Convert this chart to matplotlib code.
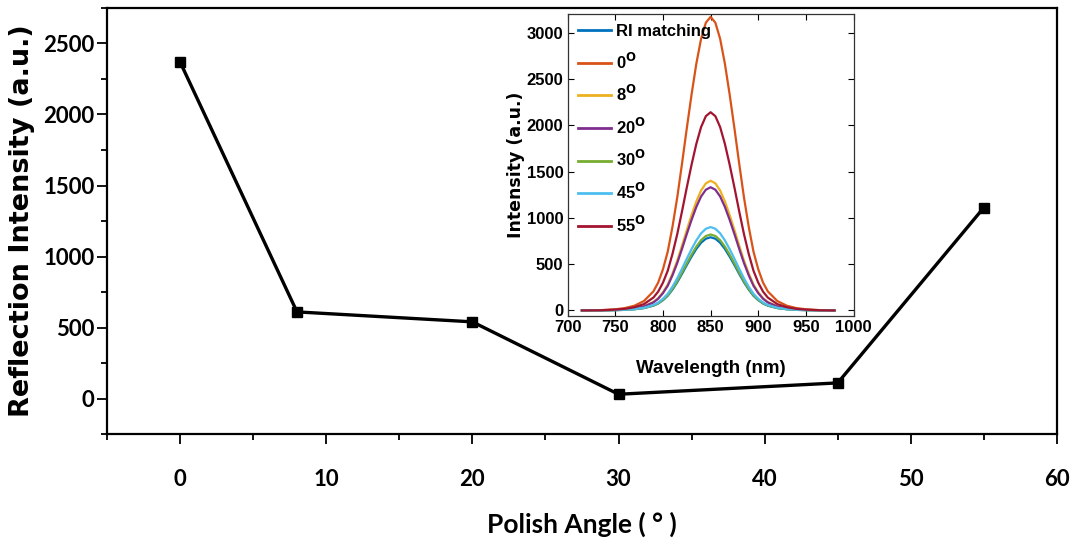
import matplotlib
matplotlib.use("Agg")
import matplotlib.pyplot as plt
from matplotlib.ticker import MultipleLocator

# Main series: reflection intensity vs. polish angle
polish_angle = [0, 8, 20, 30, 45, 55]
reflection = [2370, 610, 540, 30, 110, 1345]

# Inset: reflection spectra (common normalised line shape scaled by each peak)
wavelength = [715, 735, 750, 760, 770, 780, 790, 795, 800, 805, 810, 815, 820, 825,
              830, 835, 840, 845, 850, 855, 860, 865, 870, 875, 880, 885, 890, 895,
              900, 905, 910, 920, 930, 940, 950, 965, 980]
shape = [0.0, 0.001, 0.004, 0.008, 0.016, 0.032, 0.065, 0.095, 0.14, 0.20, 0.285, 0.385,
         0.50, 0.62, 0.735, 0.84, 0.925, 0.98, 1.0, 0.98, 0.925, 0.84, 0.735, 0.62,
         0.50, 0.385, 0.285, 0.20, 0.14, 0.095, 0.065, 0.032, 0.016, 0.008, 0.004, 0.001, 0.0]
spectra_labels = ["RI matching", "0$^{\\mathbf{O}}$", "8$^{\\mathbf{O}}$", "20$^{\\mathbf{O}}$",
                  "30$^{\\mathbf{O}}$", "45$^{\\mathbf{O}}$", "55$^{\\mathbf{O}}$"]
spectra_peaks = [790, 3170, 1400, 1330, 820, 900, 2140]
spectra_colors = ["#0072BD", "#D95319", "#EDB120", "#7E2F8E", "#77AC30", "#4DBEEE", "#A2142F"]

calib = ["Lato", "DejaVu Sans"]
arial = ["Liberation Sans", "DejaVu Sans"]
wide = ["DejaVu Sans"]

fig = plt.figure(figsize=(10.71, 5.51), dpi=100)
ax = fig.add_axes([0.0999, 0.2123, 0.887, 0.7732])

ax.plot(polish_angle, reflection, color="black", lw=2.4, marker="s", ms=7,
        markerfacecolor="black", markeredgecolor="black")
ax.set_xlim(-5, 60)
ax.set_ylim(-250, 2750)
ax.xaxis.set_major_locator(MultipleLocator(10))
ax.xaxis.set_minor_locator(MultipleLocator(5))
ax.yaxis.set_major_locator(MultipleLocator(500))
ax.yaxis.set_minor_locator(MultipleLocator(250))
ax.tick_params(which="both", direction="out", top=False, right=False, width=1.3)
ax.tick_params(which="major", length=7)
ax.tick_params(which="minor", length=4)
ax.tick_params(axis="x", pad=18)
ax.tick_params(axis="y", pad=2)
for sp in ax.spines.values():
    sp.set_linewidth(1.6)
for lab in ax.get_xticklabels() + ax.get_yticklabels():
    lab.set_fontfamily(calib)
    lab.set_fontweight("bold")
    lab.set_fontsize(16)
ax.set_xlabel("Polish Angle ( ° )", fontsize=19, fontfamily=calib, fontweight="bold", labelpad=16)
ax.set_ylabel("Reflection Intensity (a.u.)", fontsize=19.5, fontfamily=wide, fontweight="bold", labelpad=6)

# Inset spectra
ins = fig.add_axes([0.530, 0.4265, 0.267, 0.548])
for lab, peak, col in zip(spectra_labels, spectra_peaks, spectra_colors):
    ins.plot(wavelength, [peak * s for s in shape], color=col, lw=1.6, label=lab)
ins.set_xlim(700, 1000)
ins.set_ylim(-60, 3200)
ins.xaxis.set_major_locator(MultipleLocator(50))
ins.yaxis.set_major_locator(MultipleLocator(500))
ins.tick_params(direction="in", top=True, right=True, length=4, width=0.8, pad=3)
for sp in ins.spines.values():
    sp.set_linewidth(0.9)
    sp.set_color("#333333")
for lab in ins.get_xticklabels() + ins.get_yticklabels():
    lab.set_fontfamily(arial)
    lab.set_fontweight("bold")
    lab.set_fontsize(12)
ins.set_xlabel("Wavelength (nm)", fontsize=13.5, fontfamily=arial, fontweight="bold", labelpad=18)
ins.set_ylabel("Intensity (a.u.)", fontsize=12.5, fontfamily=wide, fontweight="bold", labelpad=1)
leg = ins.legend(loc="upper left", frameon=False, handlelength=2.0, handletextpad=0.3,
                 labelspacing=0.75, borderaxespad=0.3, borderpad=0.3,
                 prop={"family": arial, "weight": "bold", "size": 12})
for h in leg.get_lines():
    h.set_linewidth(2.0)

fig.savefig("out.png", dpi=100, facecolor="white")
